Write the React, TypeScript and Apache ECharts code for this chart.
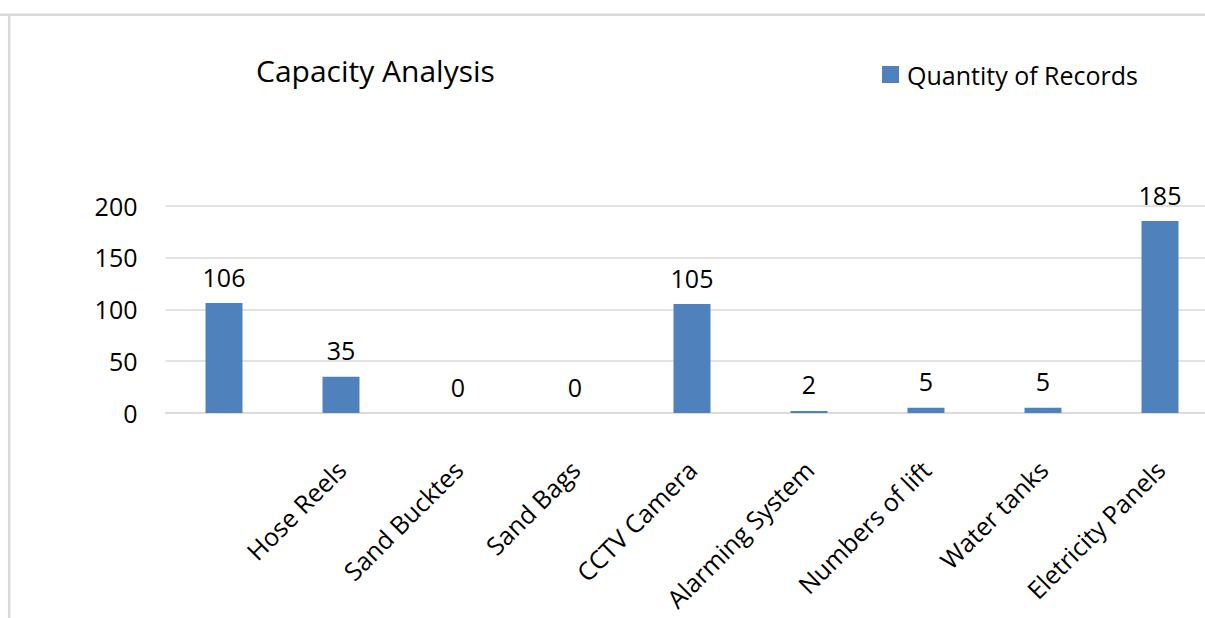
import React, { useEffect, useRef } from "react";
import * as echarts from "echarts";

const categories = [
  "",
  "Hose Reels",
  "Sand Bucktes",
  "Sand Bags",
  "CCTV Camera",
  "Alarming System",
  "Numbers of lift",
  "Water tanks",
  "Eletricity Panels",
];
const quantityOfRecords = [106, 35, 0, 0, 105, 2, 5, 5, 185];
const seriesName = "Quantity of Records";
const titleText = "Capacity Analysis";
const yMin = 0;
const yMax = 200;
const yInterval = 50;

const FONT = "'Open Sans', sans-serif";

export default function App() {
  const ref = useRef<HTMLDivElement>(null);
  useEffect(() => {
    document.body.style.margin = "0";
    document.body.style.overflow = "hidden";
    if (!ref.current) return;
    const chart = echarts.init(ref.current, undefined, { renderer: "svg" });
    chart.setOption({
      animation: false,
      backgroundColor: "#ffffff",
      textStyle: { fontFamily: FONT, color: "#000" },
      title: {
        text: titleText,
        left: 256,
        top: 55,
        padding: 0,
        textStyle: { fontFamily: FONT, fontSize: 30, fontWeight: "normal", color: "#000" },
      },
      legend: {
        data: [seriesName],
        left: 882,
        top: 62,
        padding: 0,
        icon: "rect",
        itemWidth: 17,
        itemHeight: 17,
        textStyle: { fontFamily: FONT, fontSize: 25, color: "#000", padding: [0, 0, 0, 3] },
      },
      graphic: [
        { type: "line", shape: { x1: 0, y1: 14.7, x2: 1240, y2: 14.7 }, style: { stroke: "#d9d9d9", lineWidth: 2.5 } },
        { type: "line", shape: { x1: 9.2, y1: 14.7, x2: 9.2, y2: 618 }, style: { stroke: "#d9d9d9", lineWidth: 2.5 } },
      ],
      grid: { left: 165.5, top: 205.5, width: 1053, height: 207.5, containLabel: false },
      xAxis: {
        type: "category",
        data: categories,
        axisLine: { show: true, lineStyle: { color: "#d9d9d9", width: 1.5 } },
        axisTick: { show: false },
        axisLabel: {
          interval: 0,
          rotate: 45,
          margin: 52,
          fontFamily: FONT,
          fontSize: 25,
          color: "#000",
        },
      },
      yAxis: {
        type: "value",
        min: yMin,
        max: yMax,
        interval: yInterval,
        axisLine: { show: false },
        axisTick: { show: false },
        splitLine: { show: true, lineStyle: { color: "#d9d9d9", width: 1.5 } },
        axisLabel: { margin: 28, fontFamily: FONT, fontSize: 25, color: "#000" },
      },
      series: [
        {
          name: seriesName,
          type: "bar",
          data: quantityOfRecords,
          barWidth: 37,
          itemStyle: { color: "#4f81bd" },
          label: {
            show: true,
            position: "top",
            distance: 14,
            fontFamily: FONT,
            fontSize: 25,
            color: "#000",
          },
        },
      ],
    });
    return () => chart.dispose();
  }, []);
  return (
    <div style={{ width: 1205, height: 618, overflow: "hidden", position: "relative" }}>
      <div ref={ref} style={{ width: 1240, height: 618 }} />
    </div>
  );
}
